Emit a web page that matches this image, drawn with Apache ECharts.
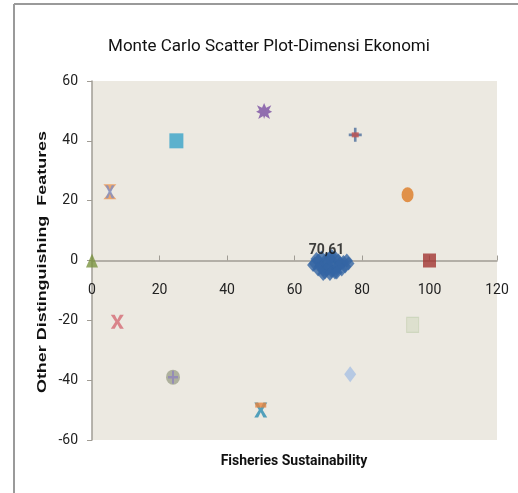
<!DOCTYPE html>
<html>
<head>
<meta charset="utf-8">
<script src="https://cdn.jsdelivr.net/npm/echarts@6/dist/echarts.min.js"></script>
<style>
  html, body { margin: 0; padding: 0; background: #fff; }
  #chart { width: 518px; height: 493px; }
</style>
</head>
<body>
<div id="chart"></div>
<script>
// monte carlo cloud around the status point
var cloudX = [66, 67, 67.5, 68, 68.5, 69, 69.5, 70, 70.5, 71, 71, 71.5, 72, 72.5, 73, 73.5, 74, 74.5, 75, 76, 65.5, 68, 69, 70, 72, 73, 66.5, 71, 69.5, 75.5, 68.5, 70.5, 72.5, 67];
var cloudY = [-1, 0, -2, 1, -3, -1, 0.5, -2, 1, -3.5, 0, -1.5, 1, -2.5, 0, -1, -3, -0.5, -2, -1, -1.5, -2, -4, -0.5, -4, -2, 0.5, 1.5, -3, 0, -4.5, -4.5, -4, -3];
var cloudLabel = "70,61";

// reference (anchor) points
var anchorX = [100, 0, 93.5, 78, 51, 25, 5.3, 7.5, 24, 50, 76.5, 95];
var anchorY = [0, 0, 22, 42, 50, 40, 23, -20.5, -39, -50, -38, -21.5];

var xTicks = { min: 0, max: 120, step: 20 };
var yTicks = { min: -60, max: 60, step: 20 };

var FONT = 'Roboto';
var X_PATH = 'path://M0,0 L3,0 L5,3.5 L7,0 L10,0 L6.5,5 L10,10 L7,10 L5,6.5 L3,10 L0,10 L3.5,5 Z';
var HOURGLASS = 'path://M0,0 L10,0 L5,5 L10,10 L0,10 L5,5 Z';
var PLUS = 'path://M4,0 L6,0 L6,4 L10,4 L10,6 L6,6 L6,10 L4,10 L4,6 L0,6 L0,4 L4,4 Z';
var STAR = 'path://M5,0 L6.3,3 L9.5,1.5 L8,4.5 L10,5.5 L7.5,6.8 L8.7,10 L5.6,8.2 L5,10 L4.4,8.2 L1.3,10 L2.5,6.8 L0,5.5 L2,4.5 L0.5,1.5 L3.7,3 Z';

var anchorStyle = [
    { symbol: 'rect', size: [13, 14], color: '#A33532' },
    { symbol: 'triangle', size: [12, 14], color: '#7A9440' },
    { symbol: 'circle', size: [12, 15], color: '#DD7A24' },
    { symbol: PLUS, size: [13, 14], color: '#4D6E9C', inner: { symbol: 'rect', size: [7, 5], color: '#C0504D' } },
    { symbol: STAR, size: [16, 16], color: '#7A4FA3' },
    { symbol: 'rect', size: [14, 15], color: '#38A2C8' },
    { symbol: HOURGLASS, size: [13, 15], color: '#EE9650', inner: { symbol: X_PATH, size: [9, 13], color: '#7E8FC6' } },
    { symbol: X_PATH, size: [13, 14], color: '#D46A74' },
    { symbol: 'circle', size: [14, 15], color: '#9FA38C', inner: { symbol: PLUS, size: [10, 13], color: '#8E84BC' } },
    { symbol: X_PATH, size: [13, 15], color: '#2C8DB1', inner: { symbol: 'rect', size: [11, 5], color: '#E8843E', offset: [0, -5] } },
    { symbol: 'diamond', size: [12, 16], color: '#A9C1E4' },
    { symbol: 'rect', size: [12, 15], color: '#D9DDC9', border: '#C9D3B8' }
];

var series = [];
var cloud = [];
for (var i = 0; i < cloudX.length; i++) {
    cloud.push([cloudX[i], cloudY[i]]);
}
series.push({
    type: 'scatter',
    data: cloud,
    symbol: 'diamond',
    symbolSize: [12, 14],
    itemStyle: { color: '#3465A4' },
    z: 3
});
// label of the cloud
series.push({
    type: 'scatter',
    data: [[69.5, 0.3]],
    symbolSize: 0,
    label: {
        show: true, position: 'top', distance: 2, formatter: cloudLabel,
        fontFamily: FONT, fontSize: 14, fontWeight: 'bold', color: '#111'
    },
    z: 5
});

for (var k = 0; k < anchorStyle.length; k++) {
    var s = anchorStyle[k];
    series.push({
        type: 'scatter',
        data: [[anchorX[k], anchorY[k]]],
        symbol: s.symbol,
        symbolSize: s.size,
        itemStyle: { color: s.color, borderColor: s.border || null, borderWidth: s.border ? 1 : 0 },
        z: 3
    });
    if (s.inner) {
        series.push({
            type: 'scatter',
            data: [[anchorX[k], anchorY[k]]],
            symbol: s.inner.symbol,
            symbolSize: s.inner.size,
            symbolOffset: s.inner.offset || [0, 0],
            itemStyle: { color: s.inner.color },
            z: 4
        });
    }
}

var option = {
    animation: false,
    backgroundColor: '#fff',
    title: {
        text: 'Monte Carlo Scatter Plot-Dimensi Ekonomi',
        left: 264, top: 33, textAlign: 'center',
        textStyle: { fontFamily: FONT, fontSize: 17, fontWeight: 'normal', color: '#111' }
    },
    grid: { left: 92, top: 81, right: 21, bottom: 53, show: true, backgroundColor: '#ECE9E1', borderWidth: 0 },
    xAxis: {
        type: 'value', min: xTicks.min, max: xTicks.max, interval: xTicks.step,
        offset: -179.5,
        axisLine: { onZero: false, lineStyle: { color: '#A09C94', width: 1.5 } },
        axisTick: { show: true, inside: true, length: 5, lineStyle: { color: '#A09C94' } },
        axisLabel: { fontFamily: FONT, fontSize: 14, color: '#222', margin: 23 },
        splitLine: { show: false }
    },
    yAxis: {
        type: 'value', min: yTicks.min, max: yTicks.max, interval: yTicks.step,
        axisLine: { show: true, onZero: false, lineStyle: { color: '#A09C94', width: 1.5 } },
        axisTick: { show: true, length: 5, lineStyle: { color: '#A09C94' } },
        axisLabel: { fontFamily: FONT, fontSize: 14, color: '#222', margin: 14 },
        splitLine: { show: false }
    },
    graphic: [
        { type: 'line', shape: { x1: 14, y1: 4, x2: 518, y2: 4 }, style: { stroke: '#9A9A9A', lineWidth: 2 } },
        { type: 'line', shape: { x1: 14, y1: 4, x2: 14, y2: 493 }, style: { stroke: '#9A9A9A', lineWidth: 2 } },
        {
            type: 'text', x: 294, y: 461,
            style: { text: 'Fisheries Sustainability', align: 'center', verticalAlign: 'middle', fontFamily: FONT, fontSize: 14, fontWeight: 'bold', fill: '#111' }
        },
        {
            type: 'text', x: 42, y: 262, rotation: Math.PI / 2, scaleX: 1.38,
            style: { text: 'Other Distinguishing  Features', align: 'center', verticalAlign: 'middle', fontFamily: 'Liberation Sans', fontSize: 13, fontWeight: 'bold', fill: '#111' }
        }
    ],
    series: series
};

var chart = echarts.init(document.getElementById('chart'));
chart.setOption(option);
</script>
</body>
</html>
